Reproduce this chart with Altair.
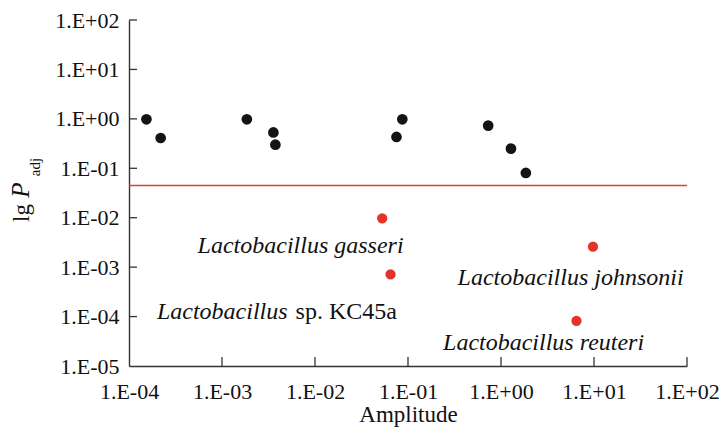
import altair as alt
import pandas as pd

# ---- data ----
amp_ns = [1.54e-4, 2.19e-4, 1.85e-3, 3.57e-3, 3.75e-3, 0.0752, 0.0869, 0.728, 1.28, 1.85]
p_ns = [0.98, 0.41, 0.98, 0.53, 0.30, 0.43, 0.98, 0.73, 0.25, 0.0805]

amp_sig = [0.0528, 0.0649, 9.75, 6.48]
p_sig = [0.0097, 7.1e-4, 2.6e-3, 8.2e-5]

threshold = [0.045]

# italic species annotations (centered)
species_labels = ["Lactobacillus gasseri", "Lactobacillus johnsonii", "Lactobacillus reuteri"]
species_x = [7.0e-3, 5.6, 2.87]
species_y = [1.9e-3, 4.4e-4, 2.1e-5]

# mixed-style annotation: italic genus + roman strain
mixed_genus = ["Lactobacillus"]
mixed_rest = ["sp. KC45a"]
mixed_x = [5.6e-3]
mixed_y = [9.1e-5]

x_tick_values = [1e-4, 1e-3, 1e-2, 1e-1, 1e0, 1e1, 1e2]
x_tick_labels = ["1.E-04", "1.E-03", "1.E-02", "1.E-01", "1.E+00", "1.E+01", "1.E+02"]
y_tick_values = [1e-5, 1e-4, 1e-3, 1e-2, 1e-1, 1e0, 1e1, 1e2]
y_tick_labels = ["1.E-05", "1.E-04", "1.E-03", "1.E-02", "1.E-01", "1.E+00", "1.E+01", "1.E+02"]

x_title = "Amplitude"
y_title_parts = ["lg", "P", "adj"]

# ---- styling ----
W, H = 558, 346
FONT = "Liberation Serif"
AXIS_COLOR = "#333333"
BLACK = "#141414"
RED = "#e4332b"
ANN_SIZE = 24


def label_expr(labels, offset):
    arr = "[" + ",".join("'" + s + "'" for s in labels) + "]"
    return f"{arr}[round(log(datum.value)/LN10)+{offset}]"


xscale = alt.Scale(type="log", domain=[1e-4, 1e2], nice=False)
yscale = alt.Scale(type="log", domain=[1e-5, 1e2], nice=False)

xaxis = alt.Axis(values=x_tick_values, labelExpr=label_expr(x_tick_labels, 4),
                 title=x_title, ticks=False, grid=False, labelPadding=15,
                 titlePadding=1, labelFlush=False)
yaxis = alt.Axis(values=y_tick_values, labelExpr=label_expr(y_tick_labels, 5),
                 title=None, ticks=False, grid=False, labelPadding=10)

df_ns = pd.DataFrame({"amp": amp_ns, "p": p_ns})
df_sig = pd.DataFrame({"amp": amp_sig, "p": p_sig})

black_pts = alt.Chart(df_ns).mark_circle(size=115, opacity=1, color=BLACK).encode(
    x=alt.X("amp:Q", scale=xscale, axis=xaxis),
    y=alt.Y("p:Q", scale=yscale, axis=yaxis),
)

red_pts = alt.Chart(df_sig).mark_circle(size=105, opacity=1, color=RED).encode(
    x=alt.X("amp:Q", scale=xscale),
    y=alt.Y("p:Q", scale=yscale),
)

thr = alt.Chart(pd.DataFrame({"p": threshold})).mark_rule(color="#e0402e", strokeWidth=1.6).encode(
    y=alt.Y("p:Q", scale=yscale)
)

# inward ticks drawn through the scales
xt = alt.Chart(pd.DataFrame({"amp": x_tick_values[1:]})).mark_rule(color=AXIS_COLOR, strokeWidth=1.3).encode(
    x=alt.X("amp:Q", scale=xscale),
    y=alt.value(H),
    y2=alt.value(H - 9),
)
yt = alt.Chart(pd.DataFrame({"p": y_tick_values[1:]})).mark_rule(color=AXIS_COLOR, strokeWidth=1.3).encode(
    y=alt.Y("p:Q", scale=yscale),
    x=alt.value(0),
    x2=alt.value(8),
)

species = alt.Chart(pd.DataFrame({"amp": species_x, "p": species_y, "t": species_labels})).mark_text(
    font=FONT, fontSize=ANN_SIZE, fontStyle="italic", color="#111111", align="center", baseline="alphabetic"
).encode(
    x=alt.X("amp:Q", scale=xscale),
    y=alt.Y("p:Q", scale=yscale),
    text="t:N",
)

df_mixed = pd.DataFrame({"amp": mixed_x, "p": mixed_y, "g": mixed_genus, "r": mixed_rest})
genus = alt.Chart(df_mixed).mark_text(
    font=FONT, fontSize=ANN_SIZE, fontStyle="italic", color="#111111", align="right", baseline="alphabetic", dx=-4
).encode(x=alt.X("amp:Q", scale=xscale), y=alt.Y("p:Q", scale=yscale), text="g:N")
rest = alt.Chart(df_mixed).mark_text(
    font=FONT, fontSize=ANN_SIZE, color="#111111", align="left", baseline="alphabetic", dx=4
).encode(x=alt.X("amp:Q", scale=xscale), y=alt.Y("p:Q", scale=yscale), text="r:N")

# y-axis title built from parts: "lg " + italic "P" + subscript "adj"
t_lg = alt.Chart(pd.DataFrame({"t": [y_title_parts[0]]})).mark_text(
    font=FONT, fontSize=23, angle=270, align="center", baseline="alphabetic", color="#111111"
).encode(text="t:N", x=alt.value(-100), y=alt.value(193))
t_p = alt.Chart(pd.DataFrame({"t": [y_title_parts[1]]})).mark_text(
    font=FONT, fontSize=25, angle=270, align="center", baseline="alphabetic", fontStyle="italic", color="#111111"
).encode(text="t:N", x=alt.value(-100), y=alt.value(170))
t_adj = alt.Chart(pd.DataFrame({"t": [y_title_parts[2]]})).mark_text(
    font=FONT, fontSize=15, angle=270, align="center", baseline="alphabetic", color="#111111"
).encode(text="t:N", x=alt.value(-89), y=alt.value(147))

chart = alt.layer(
    thr, xt, yt, black_pts, red_pts, species, genus, rest, t_lg, t_p, t_adj
).properties(
    width=W, height=H,
    background="white",
    autosize=alt.AutoSizeParams(type="none"),
    padding={"left": 121, "top": 12, "right": 32, "bottom": 61},
).configure_view(stroke=None).configure_axis(
    domainColor=AXIS_COLOR, domainWidth=1.4,
    labelFont=FONT, labelFontSize=22, labelColor="#111111",
    titleFont=FONT, titleFontSize=23, titleFontWeight="normal", titleColor="#111111",
)

chart.save("out.html", embed_options={"renderer": "svg", "actions": False})
